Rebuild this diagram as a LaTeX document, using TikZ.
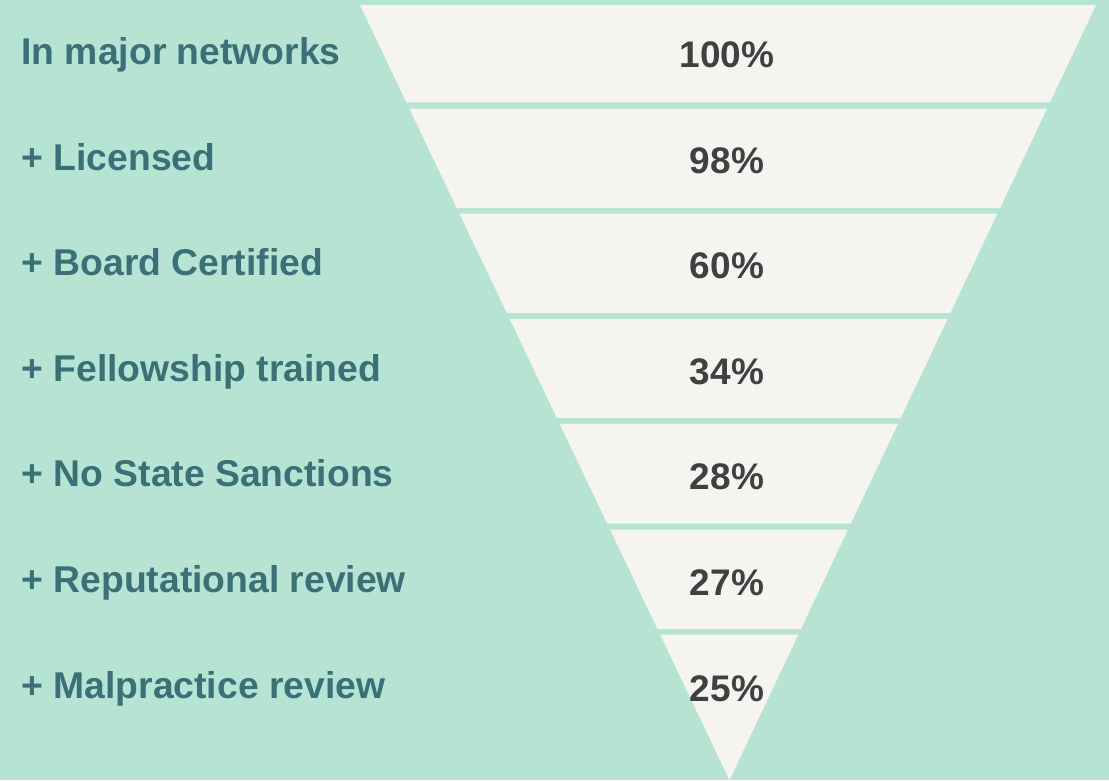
\documentclass[tikz,border=0pt]{standalone}
\usepackage{fontspec}
\setmainfont{Liberation Sans}
\usetikzlibrary{calc}
\definecolor{bgmint}{HTML}{B7E4D2}
\definecolor{cream}{HTML}{F6F4F0}
\definecolor{labelteal}{HTML}{3A7078}
\definecolor{pctgray}{HTML}{404040}
\begin{document}
\begin{tikzpicture}[x=1pt,y=-1pt,
  stagelabel/.style={anchor=base west,inner sep=0pt,text=labelteal,font=\fontsize{37.3}{44}\selectfont\bfseries},
  pctlabel/.style={anchor=base,inner sep=0pt,text=pctgray,font=\fontsize{37}{44}\selectfont\bfseries},
  band/.style={fill=cream,draw=none}]
\fill[bgmint] (0,0) rectangle (1109,780);
\useasboundingbox (0,0) rectangle (1109,780);
\coordinate (TL) at (360,5);
\coordinate (TR) at (1096,5);
\coordinate (A) at (729.5,780);
\foreach \ta/\tb [count=\i] in {5/102.5,108.5/208,213.5/313.2,319/418,424/523.5,529.5/629,634.5/780}{
  \fill[band] ($(TL)!{(\ta-5)/775}!(A)$) -- ($(TR)!{(\ta-5)/775}!(A)$)
     -- ($(TR)!{(\tb-5)/775}!(A)$) -- ($(TL)!{(\tb-5)/775}!(A)$) -- cycle;
}
\foreach \txt [count=\i] in {In major networks,+ Licensed,+ Board Certified,+ Fellowship trained,+ No State Sanctions,+ Reputational review,+ Malpractice review}{
  \node[stagelabel] (lab\i) at (21.3,{64.4+(\i-1)*105.6}) {\txt};
}
\foreach \p [count=\i] in {100\%,98\%,60\%,34\%,28\%,27\%,25\%}{
  \node[pctlabel] (pct\i) at (727,{67.5+(\i-1)*105.6}) {\p};
}
\end{tikzpicture}
\end{document}
